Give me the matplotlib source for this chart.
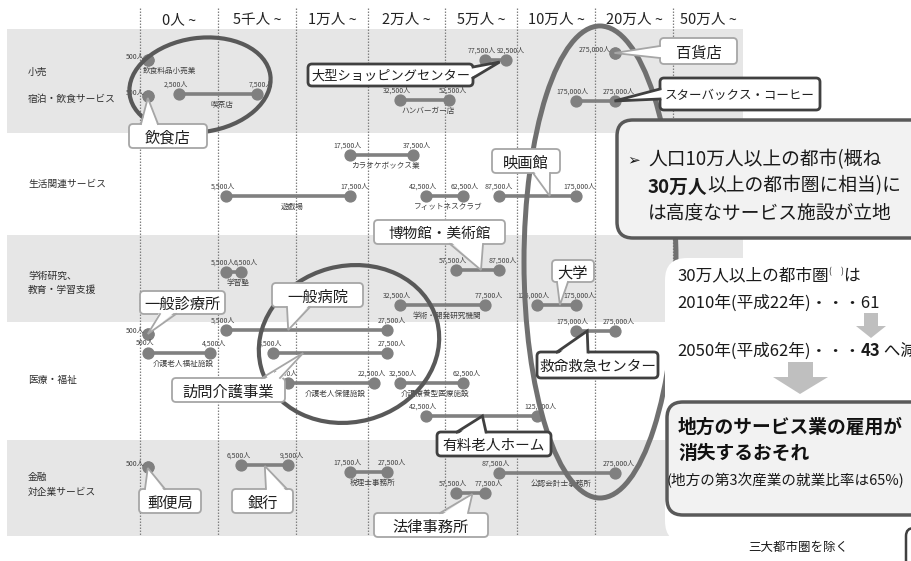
import numpy as np
import matplotlib.pyplot as plt
from matplotlib.patches import Ellipse, FancyBboxPatch, Polygon, Rectangle

plt.rcParams['font.family'] = ['Noto Sans CJK JP', 'DejaVu Sans']

# population classes (columns of the chart)
bins = [0, 5000, 10000, 20000, 50000, 100000, 200000, 500000, 1000000]
headers = ["0人 ~", "5千人 ~", "1万人 ~", "2万人 ~", "5万人 ~", "10万人 ~", "20万人 ~", "50万人 ~"]

# industry groups on the left
groups = ["小売", "宿泊・飲食サービス", "生活関連サービス", "学術研究、", "教育・学習支援",
          "医療・福祉", "金融", "対企業サービス"]

# services: population range where the facility is found
services = ["飲食料品小売業", "飲食店", "喫茶店", "大型ショッピングセンター", "ハンバーガー店",
            "百貨店", "スターバックス・コーヒー",
            "カラオケボックス業", "遊戯場", "フィットネスクラブ", "映画館",
            "学習塾", "博物館・美術館", "学術・開発研究機関", "大学",
            "一般診療所", "一般病院", "介護老人福祉施設", "訪問介護事業", "介護老人保健施設",
            "介護療養型医療施設", "救命救急センター", "有料老人ホーム",
            "郵便局", "銀行", "税理士事務所", "公認会計士事務所", "法律事務所"]
pop_low = [500, 500, 2500, 77500, 32500, 275000, 175000,
           17500, 5500, 42500, 87500,
           5500, 57500, 32500, 125000,
           500, 5500, 500, 8500, 9500, 32500, 175000, 42500,
           500, 6500, 17500, 87500, 57500]
pop_high = [500, 500, 7500, 92500, 52500, 275000, 275000,
            37500, 17500, 62500, 175000,
            6500, 87500, 77500, 175000,
            500, 27500, 4500, 27500, 22500, 62500, 275000, 125000,
            500, 9500, 27500, 275000, 77500]

# ---- layout (pixels, y from top) ----
W, H = 912, 561
edge_px = [140, 218, 296, 368, 445, 517, 595, 673, 743]
slot_y = [60, 96, 94, 60, 100, 53, 101,
          155, 196, 196, 196,
          272, 270, 305, 305,
          334, 330, 353, 353, 383, 383, 331, 416,
          467, 465, 472, 473, 493]
group_xy = [(28, 72), (28, 99), (28, 184), (28, 276), (28, 290),
            (28, 380), (28, 477), (28, 492)]
bands = [(29, 133), (235, 322), (440, 536)]
name_shift = {"飲食料品小売業": 18}
# extra horizontal nudge (points) of some value labels
label_nudge = {("介護老人保健施設", "hi"): -5, ("介護療養型医療施設", "lo"): 4,
               ("フィットネスクラブ", "hi"): -2, ("映画館", "lo"): 2}

# callouts: name -> (box x0, y0, x1, y1), side, tail base, tip (population, y), dark, size
callouts = {
    "飲食店": ((129, 124, 207, 148), "top", (141, 158), (500, 98), False, 11),
    "大型ショッピングセンター": ((308, 64, 473, 86), "right", (67, 78), (88000, 62), True, 9.5),
    "百貨店": ((660, 38, 737, 64), "left", (46, 58), (275000, 53), False, 11),
    "スターバックス・コーヒー": ((660, 78, 820, 110), "left", (89, 99), (275000, 101), True, 9),
    "映画館": ((492, 149, 560, 173), "bottom", (533, 550), (142000, 196), False, 11),
    "博物館・美術館": ((374, 220, 505, 244), "bottom", (450, 483), (75000, 270), False, 10.5),
    "大学": ((552, 260, 594, 282), "bottom", (557, 568), (155000, 305), False, 11),
    "一般診療所": ((140, 291, 225, 314), "bottom", (160, 176), (500, 334), False, 11),
    "一般病院": ((272, 283, 363, 307), "bottom", (287, 310), (9500, 330), False, 11),
    "訪問介護事業": ((172, 378, 285, 402), "top", (262, 280), (11000, 353), False, 11),
    "救命救急センター": ((537, 352, 658, 378), "top", (557, 588), (190000, 331), True, 10.5),
    "有料老人ホーム": ((437, 432, 551, 456), "top", (457, 486), (76000, 416), True, 10.5),
    "郵便局": ((139, 489, 201, 513), "top", (145, 165), (500, 468), False, 11),
    "銀行": ((232, 489, 293, 513), "top", (266, 287), (8000, 466), False, 11),
    "法律事務所": ((374, 513, 488, 537), "top", (440, 468), (69000, 494), False, 11),
}


def fwd(v):
    return np.interp(v, bins, edge_px)


def inv(p):
    return np.interp(p, edge_px, bins)


fig = plt.figure(figsize=(W / 100, H / 100), dpi=100)

bg = fig.add_axes([0, 0, 1, 1], zorder=0)
bg.set_xlim(0, W)
bg.set_ylim(H, 0)
bg.axis("off")

ax = fig.add_axes([edge_px[0] / W, 1 - 536 / H, (edge_px[-1] - edge_px[0]) / W, 528 / H], zorder=1)
ax.set_xscale("function", functions=(fwd, inv))
ax.set_xlim(bins[0], bins[-1])
ax.set_ylim(536, 8)
ax.patch.set_visible(False)
ax.axis("off")

top = fig.add_axes([0, 0, 1, 1], zorder=2)
top.set_xlim(0, W)
top.set_ylim(H, 0)
top.patch.set_visible(False)
top.axis("off")

# grey bands and group names
for y0, y1 in bands:
    bg.add_patch(Rectangle((7, y0), edge_px[-1] - 7, y1 - y0, fc="#e6e6e6", ec="none"))
for txt, (x, y) in zip(groups, group_xy):
    bg.text(x, y, txt, fontsize=7, color="#2e2e2e", va="center", ha="left")

# column separators and headers
ax.vlines(bins[:-1], 8, 536, colors="#808080", linestyles=(0, (1.2, 1.2)), lw=0.9, clip_on=False)
for i, h in enumerate(headers):
    mid = inv((edge_px[i] + edge_px[i + 1]) / 2)
    ax.text(mid, 20, h, ha="center", va="center", fontsize=10.5, color="#222222")

# service ranges
for name, lo, hi, y in zip(services, pop_low, pop_high, slot_y):
    ax.plot([lo, hi], [y, y], color="#808080", lw=2.6, marker="o", ms=7.8,
            solid_capstyle="butt", zorder=3)
    if lo == hi:
        ax.annotate(f"{lo:,}人", (lo, y), xytext=(-2.5, 2.5), textcoords="offset points",
                    ha="right", va="center", fontsize=5, color="#404040")
    else:
        ax.annotate(f"{lo:,}人", (lo, y), xytext=(-2 + label_nudge.get((name, "lo"), 0), 7),
                    textcoords="offset points", ha="center", va="center", fontsize=5,
                    color="#404040")
        ax.annotate(f"{hi:,}人", (hi, y), xytext=(3 + label_nudge.get((name, "hi"), 0), 7),
                    textcoords="offset points", ha="center", va="center", fontsize=5,
                    color="#404040")
    if name not in callouts:
        mid = inv((fwd(lo) + fwd(hi)) / 2 + 4 + name_shift.get(name, 0))
        ax.text(mid, y + 11, name, ha="center", va="center", fontsize=5.5, color="#404040")

# highlight ellipses
top.add_patch(Ellipse((200, 85), 142, 94, angle=-8, fill=False, ec="#595959", lw=3.0, zorder=2))
top.add_patch(Ellipse((349, 344), 182, 156, angle=-15, fill=False, ec="#595959", lw=3.0, zorder=2))
top.add_patch(Ellipse((600, 262), 152, 472, angle=0, fill=False, ec="#707070", lw=3.6, zorder=2))


def callout(text, box, side, base, tip, dark, size):
    x0, y0, x1, y1 = box
    ec = "#404040" if dark else "#a6a6a6"
    lw = 2.0 if dark else 1.3
    top.add_patch(FancyBboxPatch((x0, y0), x1 - x0, y1 - y0,
                                 boxstyle="round,pad=0,rounding_size=4",
                                 fc="white", ec=ec, lw=lw, zorder=6))
    a, b = base
    if side == "top":
        p, q = [(a, y0), (b, y0)], [(a, y0 + 3), (b, y0 + 3)]
    elif side == "bottom":
        p, q = [(a, y1), (b, y1)], [(a, y1 - 3), (b, y1 - 3)]
    elif side == "left":
        p, q = [(x0, a), (x0, b)], [(x0 + 3, a), (x0 + 3, b)]
    else:
        p, q = [(x1, a), (x1, b)], [(x1 - 3, a), (x1 - 3, b)]
    tx, ty = fwd(tip[0]), tip[1]
    top.add_patch(Polygon([q[0], (tx, ty), q[1]], closed=True, fc="white", ec="none", zorder=7))
    top.plot([p[0][0], tx, p[1][0]], [p[0][1], ty, p[1][1]], color=ec, lw=lw, zorder=8,
             solid_joinstyle="miter")
    top.text((x0 + x1) / 2, (y0 + y1) / 2, text, ha="center", va="center_baseline",
             fontsize=size, color="#1f1f1f", zorder=9)


for name, spec in callouts.items():
    callout(name, *spec)

# right-hand panel
top.add_patch(FancyBboxPatch((665, 258), 300, 285, boxstyle="round,pad=0,rounding_size=22",
                             fc="white", ec="none", zorder=3))
top.add_patch(FancyBboxPatch((617, 120), 330, 118, boxstyle="round,pad=0,rounding_size=16",
                             fc="#f2f2f2", ec="#595959", lw=2.5, zorder=4))
top.text(627, 160, "➢", fontsize=11, color="#1a1a1a", va="center", family=["DejaVu Sans"], zorder=5)
top.text(648, 160, "人口10万人以上の都市(概ね", fontsize=13.5, color="#1a1a1a", va="center", zorder=5)
t = top.text(648, 187, "30万人", fontsize=13.5, color="#1a1a1a", va="center", weight="bold", zorder=5)
top.annotate("以上の都市圏に相当)に", xy=(1, 0), xycoords=t, va="bottom", fontsize=13.5,
             color="#1a1a1a", zorder=5)
top.text(648, 213, "は高度なサービス施設が立地", fontsize=13.5, color="#1a1a1a", va="center", zorder=5)

t = top.text(677, 276, "30万人以上の都市圏", fontsize=12, color="#1a1a1a", va="center", zorder=5)
t2 = top.annotate("(     )", xy=(1, 1), xycoords=t, va="top", fontsize=6, color="#1a1a1a", zorder=5)
top.annotate("は", xy=(1, 1), xycoords=t2, xytext=(0, 0), textcoords="offset points",
             va="top", fontsize=12, color="#1a1a1a", zorder=5)
top.text(677, 303, "2010年(平成22年)・・・61", fontsize=12, color="#1a1a1a", va="center", zorder=5)
t = top.text(677, 351, "2050年(平成62年)・・・", fontsize=12, color="#1a1a1a", va="center", zorder=5)
t = top.annotate("43", xy=(1, 0), xycoords=t, va="bottom", fontsize=12, weight="bold",
                 color="#1a1a1a", zorder=5)
top.annotate(" へ減少", xy=(1, 0), xycoords=t, va="bottom", fontsize=12, color="#1a1a1a", zorder=5)

arrow_small = [(864, 313), (878, 313), (878, 326), (886, 326), (871, 338), (856, 326), (864, 326)]
arrow_big = [(788, 362), (813, 362), (813, 377), (828, 377), (800, 394), (773, 377), (788, 377)]
top.add_patch(Polygon(arrow_small, closed=True, fc="#bfbfbf", ec="none", zorder=5))
top.add_patch(Polygon(arrow_big, closed=True, fc="#bfbfbf", ec="none", zorder=5))

top.add_patch(FancyBboxPatch((667, 402), 280, 113, boxstyle="round,pad=0,rounding_size=16",
                             fc="#f2f2f2", ec="#595959", lw=2.5, zorder=4))
top.text(678, 427, "地方のサービス業の雇用が", fontsize=13.5, weight="bold", color="#111111",
         va="center", zorder=5)
top.text(678, 453, "消失するおそれ", fontsize=13.5, weight="bold", color="#111111",
         va="center", zorder=5)
top.text(667, 480, "(地方の第3次産業の就業比率は65%)", fontsize=10.5, color="#1a1a1a",
         va="center", zorder=5)

top.text(798, 547, "三大都市圏を除く", fontsize=9, color="#1a1a1a", ha="center", va="center", zorder=5)
top.add_patch(FancyBboxPatch((906, 528), 60, 60, boxstyle="round,pad=0,rounding_size=8",
                             fc="white", ec="#404040", lw=1.8, zorder=5))

fig.savefig("out.png", dpi=100)
